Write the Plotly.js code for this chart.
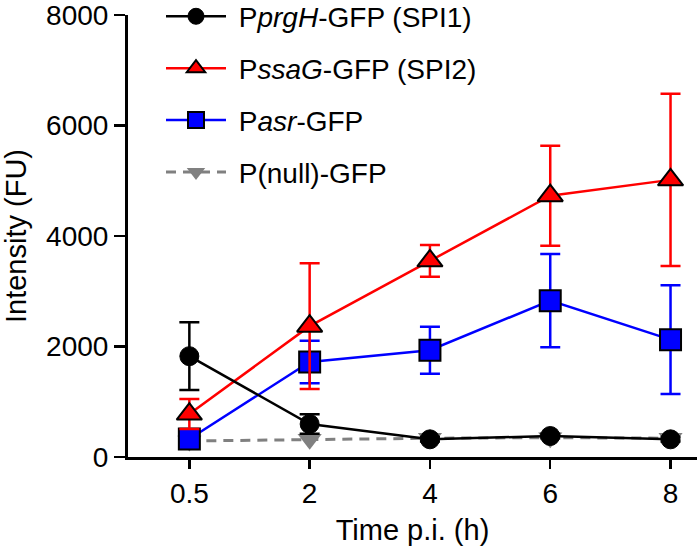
<!DOCTYPE html>
<html>
<head>
<meta charset="utf-8">
<script src="https://cdn.plot.ly/plotly-3.0.1.min.js"></script>
<style>html,body{margin:0;padding:0;background:#fff;}#chart{width:700px;height:548px;}</style>
</head>
<body>
<div id="chart"></div>
<script>
// Data
var timeLabels = ["0.5", "2", "4", "6", "8"];

var prgHValues = [1825, 597, 320, 380, 320];
var prgHErrors = [612, 176, 40, 40, 40];

var ssaGValues = [778, 2368, 3550, 4729, 5016];
var ssaGErrors = [270, 1138, 287, 905, 1560];

var asrValues = [325, 1720, 1933, 2830, 2124];
var asrErrors = [40, 385, 425, 845, 984];

var nullValues = [290, 320, 340, 350, 340];

var seriesNames = [
  "&nbsp;P<i>prgH</i>-GFP (SPI1)",
  "&nbsp;P<i>ssaG</i>-GFP (SPI2)",
  "&nbsp;P<i>asr</i>-GFP",
  "&nbsp;P(null)-GFP"
];

var FONT = "Liberation Sans, Arial, Helvetica, sans-serif";
var FS = 28;

function errBar(arr, color) {
  return {type: "data", array: arr, visible: true, color: color, thickness: 2.5, width: 10};
}

var traces = [
  {
    x: timeLabels, y: nullValues, name: seriesNames[3], type: "scatter", mode: "lines+markers",
    legendgroup: "g4", legendrank: 4,
    line: {color: "#808080", width: 3, dash: "10px,7px"},
    marker: {symbol: "triangle-down", size: 21, color: "#808080", line: {color: "#808080", width: 0}}
  },
  {
    x: timeLabels, y: asrValues, name: seriesNames[2], type: "scatter", mode: "lines+markers",
    legendgroup: "g3", legendrank: 3,
    line: {color: "#0000ff", width: 2.5},
    marker: {symbol: "square", size: 21, color: "#0000ff", line: {color: "#000", width: 2}},
    error_y: errBar(asrErrors, "#0000ff")
  },
  {
    x: timeLabels, y: ssaGValues, name: seriesNames[1], type: "scatter", mode: "lines+markers",
    legendgroup: "g2", legendrank: 2,
    line: {color: "#ff0000", width: 2.5},
    marker: {symbol: "triangle-up", size: 22, color: "#ff0000", line: {color: "#000", width: 2}},
    error_y: errBar(ssaGErrors, "#ff0000")
  },
  {
    x: timeLabels, y: prgHValues, name: seriesNames[0], type: "scatter", mode: "lines+markers",
    legendgroup: "g1", legendrank: 1,
    line: {color: "#000", width: 2.5},
    marker: {symbol: "circle", size: 19, color: "#000", line: {color: "#000", width: 1}},
    error_y: errBar(prgHErrors, "#000")
  }
];

var layout = {
  width: 700, height: 548,
  margin: {l: 128, r: 3, t: 15, b: 91, autoexpand: false},
  paper_bgcolor: "#fff", plot_bgcolor: "#fff",
  font: {family: FONT, size: FS, color: "#000"},
  showlegend: true,
  legend: {
    x: 0.058, y: 1.053, xanchor: "left", yanchor: "top",
    bgcolor: "rgba(0,0,0,0)", borderwidth: 0,
    font: {family: FONT, size: FS, color: "#000"},
    tracegroupgap: 12.5, itemwidth: 60
  },
  xaxis: {
    type: "category", range: [-0.51, 4.22],
    showline: true, linecolor: "#000", linewidth: 3,
    ticks: "outside", ticklen: 9, tickwidth: 2.5, tickcolor: "#000",
    showgrid: false, zeroline: false, ticklabeloverflow: "allow",
    tickfont: {family: FONT, size: FS, color: "#000"},
    title: {text: "Time p.i. (h)", font: {family: FONT, size: 29, color: "#000"}, standoff: 13}
  },
  yaxis: {
    range: [0, 8000], dtick: 2000, tick0: 0,
    showline: true, linecolor: "#000", linewidth: 3,
    ticks: "outside", ticklen: 11, tickwidth: 2.5, tickcolor: "#000",
    showgrid: false, zeroline: false, ticklabeloverflow: "allow",
    tickfont: {family: FONT, size: FS, color: "#000"},
    title: {text: "Intensity (FU)", font: {family: FONT, size: 29, color: "#000"}, standoff: 12}
  }
};

Plotly.newPlot("chart", traces, layout, {displayModeBar: false, staticPlot: true});
</script>
</body>
</html>
